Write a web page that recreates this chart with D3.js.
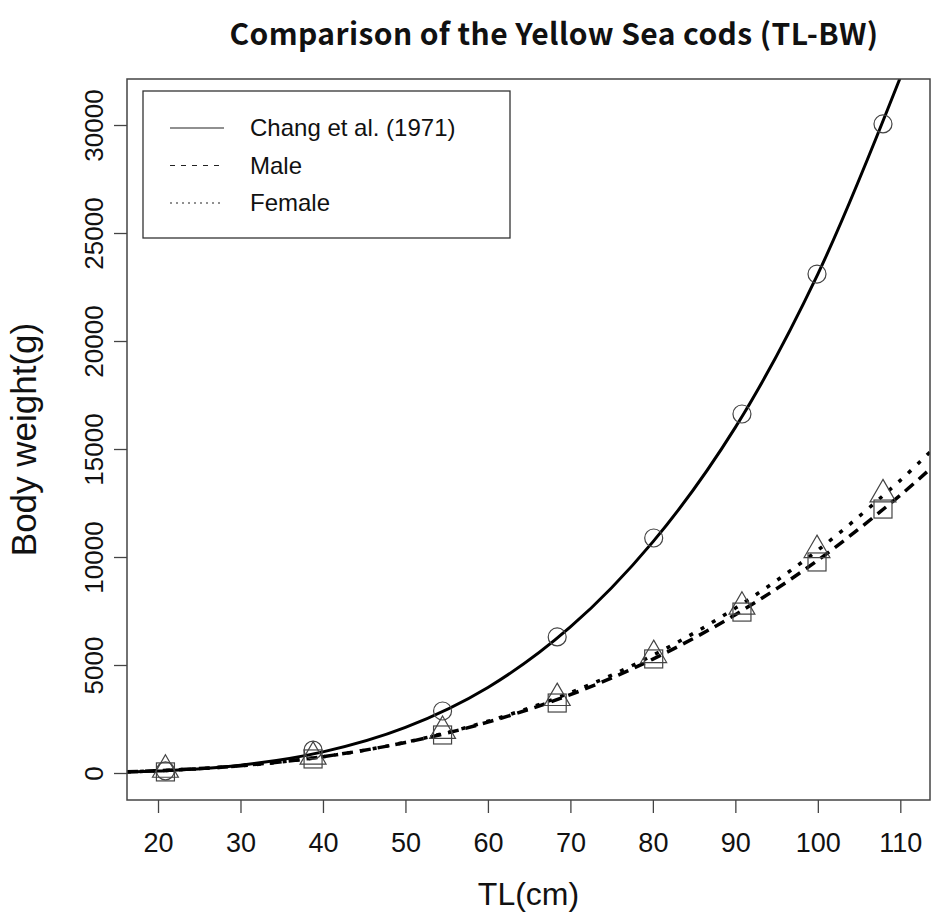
<!DOCTYPE html>
<html>
<head>
<meta charset="utf-8">
<script src="https://cdn.jsdelivr.net/npm/d3@7"></script>
<style>
  body { margin: 0; background: #fff; }
  text { font-family: "Liberation Sans", Arial, sans-serif; fill: #111; }
</style>
</head>
<body>
<div id="chart"></div>
<script>
// curve values
var curveTL     = [16.24, 20, 30, 40, 50, 60, 70, 80, 90, 100, 110, 113.6]
var changCurve  = [44, 89, 363, 978, 2110, 3960, 6760, 10700, 16000, 23100, 32200, 35900]
var maleCurve   = [61, 109, 338, 757, 1414, 2357, 3628, 5272, 7332, 9850, 12862, 14070]
var femaleCurve = [57, 103, 330, 751, 1421, 2394, 3720, 5450, 7633, 10317, 13550, 14860]

// observed points
var pointTL     = [20.9, 38.8, 54.5, 68.4, 80.1, 90.8, 99.9, 107.9]
var changPts    = [100, 1060, 2870, 6300, 10880, 16620, 23100, 30050]
var malePts     = [50, 650, 1760, 3240, 5280, 7450, 9770, 12220]
var femalePts   = [150, 760, 1950, 3470, 5460, 7700, 10320, 12900]

var xTicks = [20, 30, 40, 50, 60, 70, 80, 90, 100, 110]
var yTicks = [0, 5000, 10000, 15000, 20000, 25000, 30000]
var legendLabels = ['Chang et al. (1971)', 'Male', 'Female']

var W = 931, H = 922
var pLeft = 127, pRight = 930, pTop = 79, pBottom = 800

var svg = d3.select('#chart').append('svg')
    .attr('width', W)
    .attr('height', H)

var xScale = d3.scaleLinear().domain([16.24, 113.6]).range([pLeft, pRight])
var yScale = d3.scaleLinear().domain([-1250, 32130]).range([pBottom, pTop])

// title
svg.append('text')
    .attr('x', 554)
    .attr('y', 45)
    .attr('text-anchor', 'middle')
    .style('font-family', '"Noto Sans CJK KR", "Noto Sans", sans-serif')
    .style('font-weight', 'bold')
    .style('font-size', '30px')
    .style('letter-spacing', '0.4px')
    .text('Comparison of the Yellow Sea cods (TL-BW)')

svg.append('clipPath').attr('id', 'clip')
  .append('rect')
    .attr('x', pLeft).attr('y', pTop)
    .attr('width', pRight - pLeft).attr('height', pBottom - pTop)

// x axis
var xAxis = d3.axisBottom(xScale).tickValues(xTicks).tickSize(13)
var gx = svg.append('g')
    .attr('transform', 'translate(0,' + pBottom + ')')
    .call(xAxis)
gx.select('.domain').remove()
gx.selectAll('line').attr('stroke', '#444').attr('stroke-width', 1.3)
gx.selectAll('text')
    .attr('y', 52)
    .attr('dy', 0)
    .style('font-size', '27px')
    .attr('fill', '#111')

// y axis
var yAxis = d3.axisLeft(yScale).tickValues(yTicks).tickSize(13).tickFormat(d3.format('d'))
var gy = svg.append('g')
    .attr('transform', 'translate(' + pLeft + ',0)')
    .call(yAxis)
gy.select('.domain').remove()
gy.selectAll('line').attr('stroke', '#444').attr('stroke-width', 1.3)
gy.selectAll('text')
    .attr('transform', 'rotate(-90)')
    .attr('x', 0)
    .attr('y', -24)
    .attr('dy', 0)
    .attr('text-anchor', 'middle')
    .style('font-size', '26px')
    .attr('fill', '#111')

// axis labels
svg.append('text')
    .attr('x', (pLeft + pRight) / 2)
    .attr('y', 905)
    .attr('text-anchor', 'middle')
    .style('font-size', '32px')
    .text('TL(cm)')
svg.append('text')
    .attr('transform', 'translate(36,' + (pTop + pBottom) / 2 + ') rotate(-90)')
    .attr('text-anchor', 'middle')
    .style('font-size', '35px')
    .text('Body weight(g)')

// curves
var plot = svg.append('g').attr('clip-path', 'url(#clip)')
var line = d3.line()
    .x(function (d) { return xScale(d[0]) })
    .y(function (d) { return yScale(d[1]) })
    .curve(d3.curveCatmullRom)

var curves = [
  { vals: changCurve, dash: null, width: 3 },
  { vals: maleCurve, dash: '11,7', width: 3.5 },
  { vals: femaleCurve, dash: '4,9', width: 3.5 }
]
curves.forEach(function (c) {
  plot.append('path')
      .datum(curveTL.map(function (t, i) { return [t, c.vals[i]] }))
      .attr('d', line)
      .attr('fill', 'none')
      .attr('stroke', '#000')
      .attr('stroke-width', c.width)
      .attr('stroke-dasharray', c.dash)
})

// markers
var mk = svg.append('g')
    .attr('fill', 'none')
    .attr('stroke', '#444')
    .attr('stroke-width', 1.2)
mk.selectAll('circle')
    .data(pointTL)
    .enter()
  .append('circle')
    .attr('cx', function (d) { return xScale(d) })
    .attr('cy', function (d, i) { return yScale(changPts[i]) })
    .attr('r', 9)
mk.selectAll('rect')
    .data(pointTL)
    .enter()
  .append('rect')
    .attr('x', function (d) { return xScale(d) - 9 })
    .attr('y', function (d, i) { return yScale(malePts[i]) - 9 })
    .attr('width', 18)
    .attr('height', 18)
var tri = d3.symbol().type(d3.symbolTriangle).size(290)
mk.selectAll('path.tri')
    .data(pointTL)
    .enter()
  .append('path')
    .attr('class', 'tri')
    .attr('d', tri)
    .attr('transform', function (d, i) {
      return 'translate(' + xScale(d) + ',' + yScale(femalePts[i]) + ')' })

// plot box
svg.append('rect')
    .attr('x', pLeft).attr('y', pTop)
    .attr('width', pRight - pLeft).attr('height', pBottom - pTop)
    .attr('fill', 'none')
    .attr('stroke', '#444')
    .attr('stroke-width', 1.5)

// legend
var lg = svg.append('g')
lg.append('rect')
    .attr('x', 143).attr('y', 91)
    .attr('width', 367).attr('height', 147)
    .attr('fill', '#fff')
    .attr('stroke', '#333')
    .attr('stroke-width', 1.3)
var dashes = [null, '5,6', '2,4']
legendLabels.forEach(function (lab, i) {
  var yy = 128 + i * 37.5
  lg.append('line')
      .attr('x1', 170).attr('x2', 224)
      .attr('y1', yy).attr('y2', yy)
      .attr('stroke', '#222')
      .attr('stroke-width', 1.2)
      .attr('stroke-dasharray', dashes[i])
  lg.append('text')
      .attr('x', 250)
      .attr('y', yy + 8)
      .style('font-size', '24px')
      .text(lab)
})
</script>
</body>
</html>
